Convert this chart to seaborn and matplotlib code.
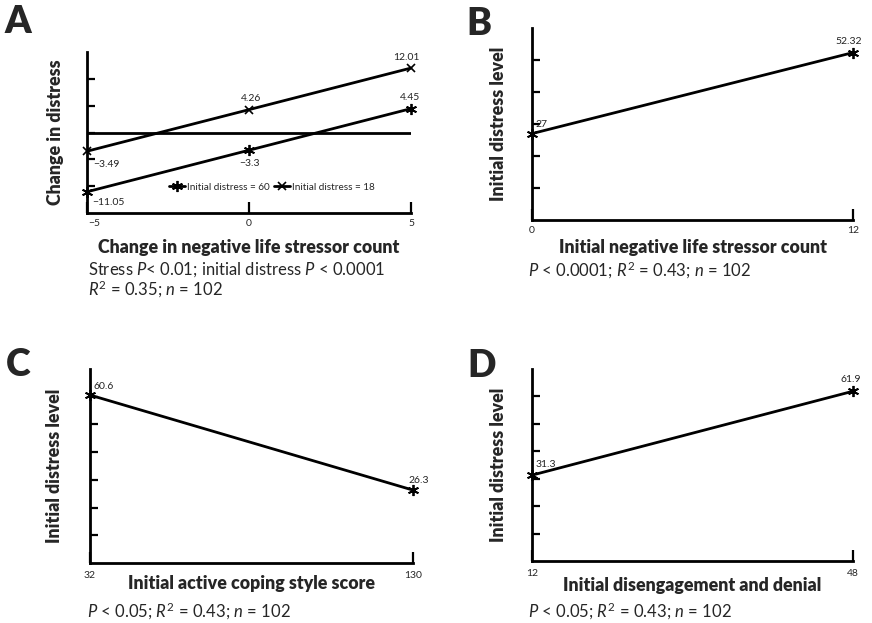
import matplotlib
matplotlib.use("Agg")
import matplotlib.pyplot as plt
import matplotlib.transforms as mtrans
import seaborn as sns

sns.set_theme(style="white")
plt.rcParams['font.family'] = ['Lato', 'DejaVu Sans']
plt.rcParams['mathtext.fontset'] = 'custom'
plt.rcParams['mathtext.rm'] = 'Lato'
plt.rcParams['mathtext.it'] = 'Lato:italic'

# ---- data ----
a_x = [-5, 0, 5]
a_distress60 = [-11.05, -3.3, 4.45]
a_distress18 = [-3.49, 4.26, 12.01]
a_labels60 = ["\u221211.05", "\u22123.3", "4.45"]
a_labels18 = ["\u22123.49", "4.26", "12.01"]

b_x = [0, 12]
b_y = [27, 52.32]
b_labels = ["27", "52.32"]

c_x = [32, 130]
c_y = [60.6, 26.3]
c_labels = ["60.6", "26.3"]

d_x = [12, 48]
d_y = [31.3, 61.9]
d_labels = ["31.3", "61.9"]

ASTER = (6, 2, 0)
W, H = 872, 623
fig = plt.figure(figsize=(W / 100, H / 100), dpi=100)


def make_ax(l, r, t, b):
    ax = fig.add_axes([l / W, (H - b) / H, (r - l) / W, (b - t) / H])
    ax._px = (r - l, b - t)
    return ax


def style(ax, xlim, ylim, yticks, xticks, xlabel, ylabel, xlabels, xlab_dist, ylab_dist, tick_pad):
    ax.set_xlim(*xlim)
    ax.set_ylim(*ylim)
    for s in ['top', 'right']:
        ax.spines[s].set_visible(False)
    for s in ['left', 'bottom']:
        ax.spines[s].set_color('black')
        ax.spines[s].set_linewidth(2)
    ax.set_yticks(yticks)
    ax.set_yticklabels([])
    ax.set_xticks(xticks)
    ax.set_xticklabels(xlabels, fontsize=7.5)
    ax.tick_params(axis='y', direction='in', length=6, width=1.6, color='black', left=True)
    ax.tick_params(axis='x', direction='in', length=8, width=1.6, color='black', bottom=True, pad=tick_pad)
    ax.set_xlabel(xlabel, fontsize=12.8, fontweight='heavy', va='center')
    ax.set_ylabel(ylabel, fontsize=12.8, fontweight='heavy', va='center')
    wpx, hpx = ax._px
    ax.xaxis.set_label_coords(0.5, -xlab_dist / hpx)
    ax.yaxis.set_label_coords(-ylab_dist / wpx, 0.5)
    ax.grid(False)


def annot(ax, x, y, txt, dx, dy, ha='center'):
    ax.annotate(txt, (x, y), xytext=(dx, dy), textcoords='offset pixels',
                ha=ha, va='center', fontsize=7.5, color='#222222')


STAT = 12

# ---- Panel A ----
axA = make_ax(87, 411, 52, 213)
axA.axhline(0, color='black', lw=2)
sns.lineplot(x=a_x, y=a_distress60, ax=axA, color='black', lw=2, marker=ASTER,
             markersize=8, markeredgewidth=1.3, markeredgecolor='black',
             label='Initial distress = 60', clip_on=False)
sns.lineplot(x=a_x, y=a_distress18, ax=axA, color='black', lw=2, marker='x',
             markersize=6, markeredgewidth=1.2, markeredgecolor='black',
             label='Initial distress = 18', clip_on=False)
style(axA, (-5, 5), (-15, 15), [-10, -5, 0, 5, 10], [-5, 0, 5],
      'Change in negative life stressor count', 'Change in distress', ['\u22125', '0', '5'],
      34, 32, 4)
lab0 = axA.get_xticklabels()[0]
lab0.set_transform(lab0.get_transform() + mtrans.ScaledTranslation(7 / 100, 0, fig.dpi_scale_trans))
leg = axA.legend(loc='center', bbox_to_anchor=(0.57, 0.16), ncol=2, frameon=False,
                 fontsize=7.2, handlelength=1.6, columnspacing=0.4, handletextpad=0.2)
annot(axA, a_x[0], a_distress60[0], a_labels60[0], 21, -11)
annot(axA, a_x[1], a_distress60[1], a_labels60[1], 0, -13)
annot(axA, a_x[2], a_distress60[2], a_labels60[2], -1, 11)
annot(axA, a_x[0], a_distress18[0], a_labels18[0], 19, -13)
annot(axA, a_x[1], a_distress18[1], a_labels18[1], 2, 11)
annot(axA, a_x[2], a_distress18[2], a_labels18[2], -5, 11)
fig.text(88 / W, 1 - 270 / H, 'Stress $P$< 0.01; initial distress $P$ < 0.0001',
         fontsize=STAT, va='center', ha='left')
fig.text(88 / W, 1 - 289 / H, '$R^{\\mathrm{2}}$ = 0.35; $n$ = 102',
         fontsize=STAT, va='center', ha='left')

# ---- Panel B ----
axB = make_ax(532, 853, 28, 220)
sns.lineplot(x=b_x, y=b_y, ax=axB, color='black', lw=2, marker=ASTER, markersize=8,
             markeredgewidth=1.3, markeredgecolor='black', clip_on=False)
style(axB, (0, 12), (0, 60), [10, 20, 30, 40, 50], [0, 12],
      'Initial negative life stressor count', 'Initial distress level', ['0', '12'],
      27, 34, 4)
annot(axB, b_x[0], b_y[0], b_labels[0], 9, 9)
annot(axB, b_x[1], b_y[1], b_labels[1], -4, 11)
fig.text(528 / W, 1 - 270 / H, '$P$ < 0.0001; $R^{\\mathrm{2}}$ = 0.43; $n$ = 102',
         fontsize=STAT, va='center', ha='left')

# ---- Panel C ----
axC = make_ax(90, 413, 369, 563)
sns.lineplot(x=c_x, y=c_y, ax=axC, color='black', lw=2, marker=ASTER, markersize=8,
             markeredgewidth=1.3, markeredgecolor='black', clip_on=False)
style(axC, (32, 130), (0, 70), [10, 20, 30, 40, 50, 60], [32, 130],
      'Initial active coping style score', 'Initial distress level', ['32', '130'],
      21, 36, 6)
annot(axC, c_x[0], c_y[0], c_labels[0], 14, 9)
annot(axC, c_x[1], c_y[1], c_labels[1], 6, 10)
fig.text(87 / W, 1 - 611 / H, '$P$ < 0.05; $R^{\\mathrm{2}}$ = 0.43; $n$ = 102',
         fontsize=STAT, va='center', ha='left')

# ---- Panel D ----
axD = make_ax(532, 853, 369, 561)
sns.lineplot(x=d_x, y=d_y, ax=axD, color='black', lw=2, marker=ASTER, markersize=8,
             markeredgewidth=1.3, markeredgecolor='black', clip_on=False)
style(axD, (12, 48), (0, 70), [10, 20, 30, 40, 50, 60], [12, 48],
      'Initial disengagement and denial', 'Initial distress level', ['12', '48'],
      25, 34, 6)
annot(axD, d_x[0], d_y[0], d_labels[0], 14, 11)
annot(axD, d_x[1], d_y[1], d_labels[1], -2, 12)
fig.text(528 / W, 1 - 611 / H, '$P$ < 0.05; $R^{\\mathrm{2}}$ = 0.43; $n$ = 102',
         fontsize=STAT, va='center', ha='left')

# panel letters
for letter, x, y in [('A', 4, 22), ('B', 466, 24), ('C', 6, 365), ('D', 467, 366)]:
    fig.text(x / W, 1 - y / H, letter, fontsize=27, fontweight='heavy',
             ha='left', va='center')

fig.savefig('out.png', dpi=100)
